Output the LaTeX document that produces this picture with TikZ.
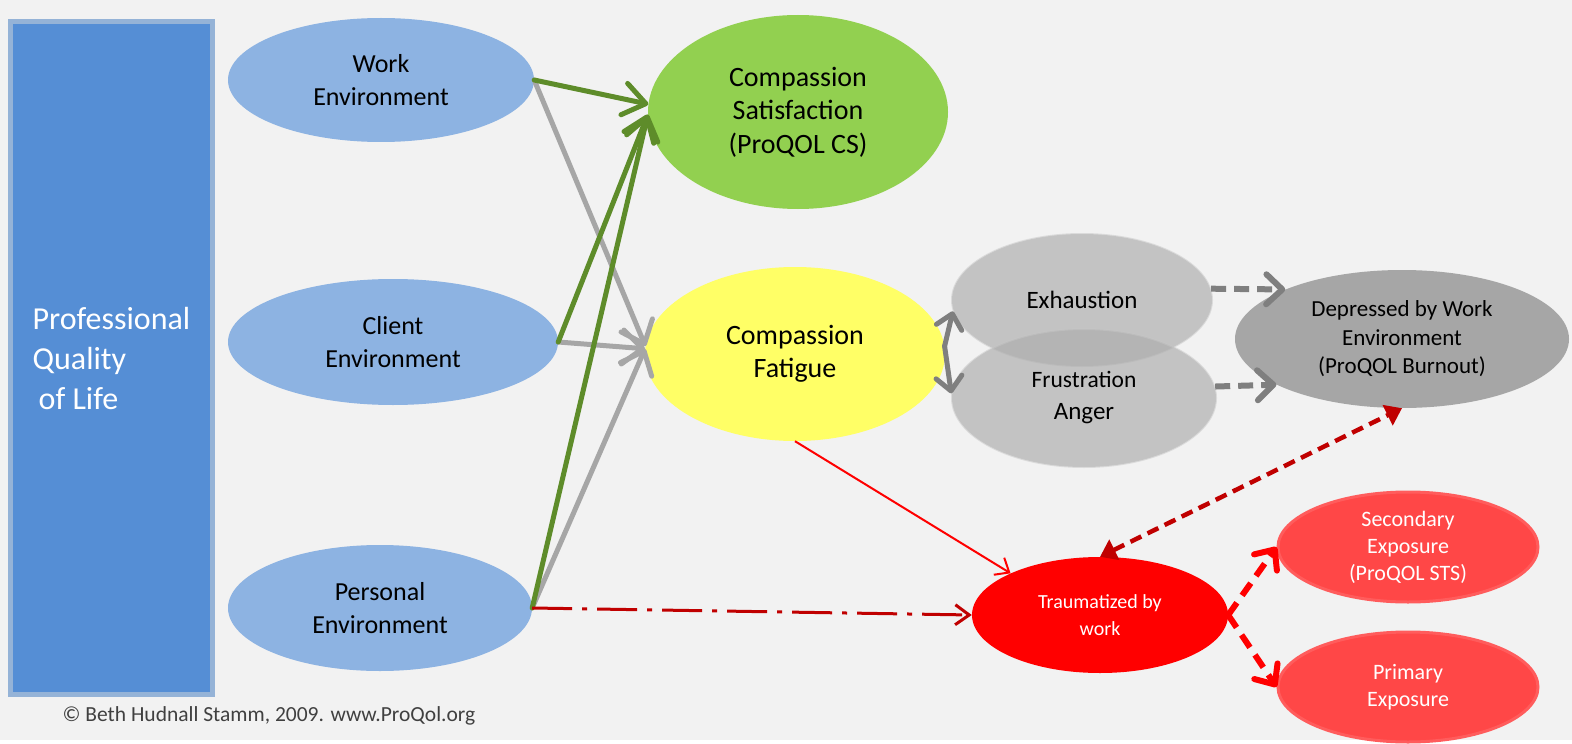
\documentclass[tikz,border=0pt]{standalone}
\usepackage{fontspec}
\setmainfont{Carlito}
\usetikzlibrary{shapes.geometric, arrows.meta}
\definecolor{bgc}{HTML}{F2F2F2}
\definecolor{qolblue}{HTML}{558ED5}
\definecolor{qolrim}{HTML}{95B3D7}
\definecolor{envblue}{HTML}{8DB3E2}
\definecolor{csgreen}{HTML}{92D050}
\definecolor{arrgreen}{HTML}{5E8C2A}
\definecolor{cfyellow}{HTML}{FFFF66}
\definecolor{exgray}{HTML}{ADADAD}
\definecolor{depgray}{HTML}{A6A6A6}
\definecolor{linegray}{HTML}{A6A6A6}
\definecolor{darkgray}{HTML}{7F7F7F}
\definecolor{darkred}{HTML}{C00000}
\definecolor{expred}{HTML}{FF4747}
\definecolor{exprim}{HTML}{FF5C5C}

\begin{document}
\begin{tikzpicture}[x=1pt, y=-1pt,
  blob/.style={ellipse, inner sep=0pt, align=center},
  env/.style={blob, fill=envblue, font=\fontsize{26}{33}\selectfont},
  exgr/.style={blob, fill=exgray, fill opacity=0.68, text opacity=1, draw=exgray!70, draw opacity=0.5, line width=2pt},
  expo/.style={blob, fill=expred, draw=exprim, line width=3pt, text=white, font=\fontsize{22}{27}\selectfont},
  greenarr/.style={arrgreen, line width=5pt, line cap=round, -{Straight Barb[length=22pt, width=32pt, round]}},
  grayarr/.style={linegray, line width=5pt, line cap=round, -{Straight Barb[length=20pt, width=34pt, round]}},
  grayswap/.style={darkgray, line width=5pt, line cap=round, -{Straight Barb[length=14pt, width=26pt, round]}},
  graydash/.style={darkgray, line width=6pt, dash pattern=on 15pt off 8pt, -{Straight Barb[length=16pt, width=30pt, round]}},
  reddash/.style={red, line width=6pt, dash pattern=on 15pt off 9pt, -{Straight Barb[length=16pt, width=28pt, round]}}]
\fill[bgc] (0,0) rectangle (1572,740);

\node[draw=qolrim, fill=qolblue, line width=5pt, minimum width=202pt, minimum height=673pt,
  align=left, text=white, font=\fontsize{32}{40}\selectfont] (qol) at (111.5,358)
  {Professional\\Quality\\\hspace{6pt}of Life};

\node[env, minimum width=306pt, minimum height=124pt] (work) at (381,80) {Work\\Environment};
\node[env, minimum width=330pt, minimum height=126pt] (client) at (393,342) {Client\\Environment};
\node[env, minimum width=304pt, minimum height=126pt] (pers) at (380,608) {Personal\\Environment};

\node[blob, fill=csgreen, minimum width=300pt, minimum height=194pt,
  font=\fontsize{28}{33.5}\selectfont] (cs) at (798,112) {Compassion\\Satisfaction\\(ProQOL CS)};
\node[blob, fill=cfyellow, minimum width=300pt, minimum height=174pt,
  font=\fontsize{28}{33}\selectfont] (cf) at (795,354) {Compassion\\Fatigue};

\node[exgr, minimum width=260pt, minimum height=132pt, font=\fontsize{25}{32}\selectfont] (exh) at (1082,300) {Exhaustion};
\node[exgr, minimum width=264pt, minimum height=138pt, font=\fontsize{25}{32}\selectfont] (fru) at (1084,398)
  {{\fontsize{23.5}{32}\selectfont Frustration}\\Anger};

\node[blob, fill=depgray, minimum width=334pt, minimum height=138pt,
  font=\fontsize{23}{28.5}\selectfont] (dep) at (1402,339) {Depressed by Work\\Environment\\(ProQOL Burnout)};

\node[blob, fill=red, minimum width=256pt, minimum height=116pt, text=white,
  font=\fontsize{20}{27}\selectfont] (trauma) at (1100,615) {Traumatized by\\work};
\node[expo, minimum width=260pt, minimum height=110pt] (sec) at (1408,547) {Secondary\\Exposure\\(ProQOL STS)};
\node[expo, minimum width=260pt, minimum height=110pt] (prim) at (1408,687) {Primary\\Exposure};

\node[text=black!75, font=\fontsize{21.5}{24}\selectfont] (copy) at (269,716) {© Beth Hudnall Stamm, 2009. www.ProQol.org};

\draw[grayarr] (work.east) -- (cf.177);
\draw[grayarr] (client.east) -- (cf.178);
\draw[grayarr] (pers.east) -- (cf.178);
\draw[greenarr] (work.east) -- (cs.177);
\draw[greenarr] (client.east) -- (cs.181);
\draw[greenarr] (pers.east) -- (cs.181);

\draw[grayswap] (cf.3) -- (exh.185);
\draw[grayswap] (cf.3) -- (fru.178);
\draw[graydash] (exh.5) -- (dep.157);
\draw[graydash] (fru.5) -- (dep.200);

\draw[red, line width=2pt, -{Straight Barb[length=12pt, width=20pt]}] (cf.south) -- (trauma.155);
\draw[darkred, line width=3pt, dash pattern=on 40pt off 10pt on 5pt off 10pt,
  -{Straight Barb[length=14pt, width=20pt]}] (pers.east) -- (trauma.west);
\draw[darkred, line width=4.5pt, dash pattern=on 12pt off 7pt,
  {Triangle[length=16pt, width=22pt]}-{Triangle[length=16pt, width=22pt]}] (trauma.north) -- (dep.south);
\draw[reddash] (trauma.east) -- (sec.west);
\draw[reddash] (trauma.east) -- (prim.west);
\end{tikzpicture}
\end{document}
